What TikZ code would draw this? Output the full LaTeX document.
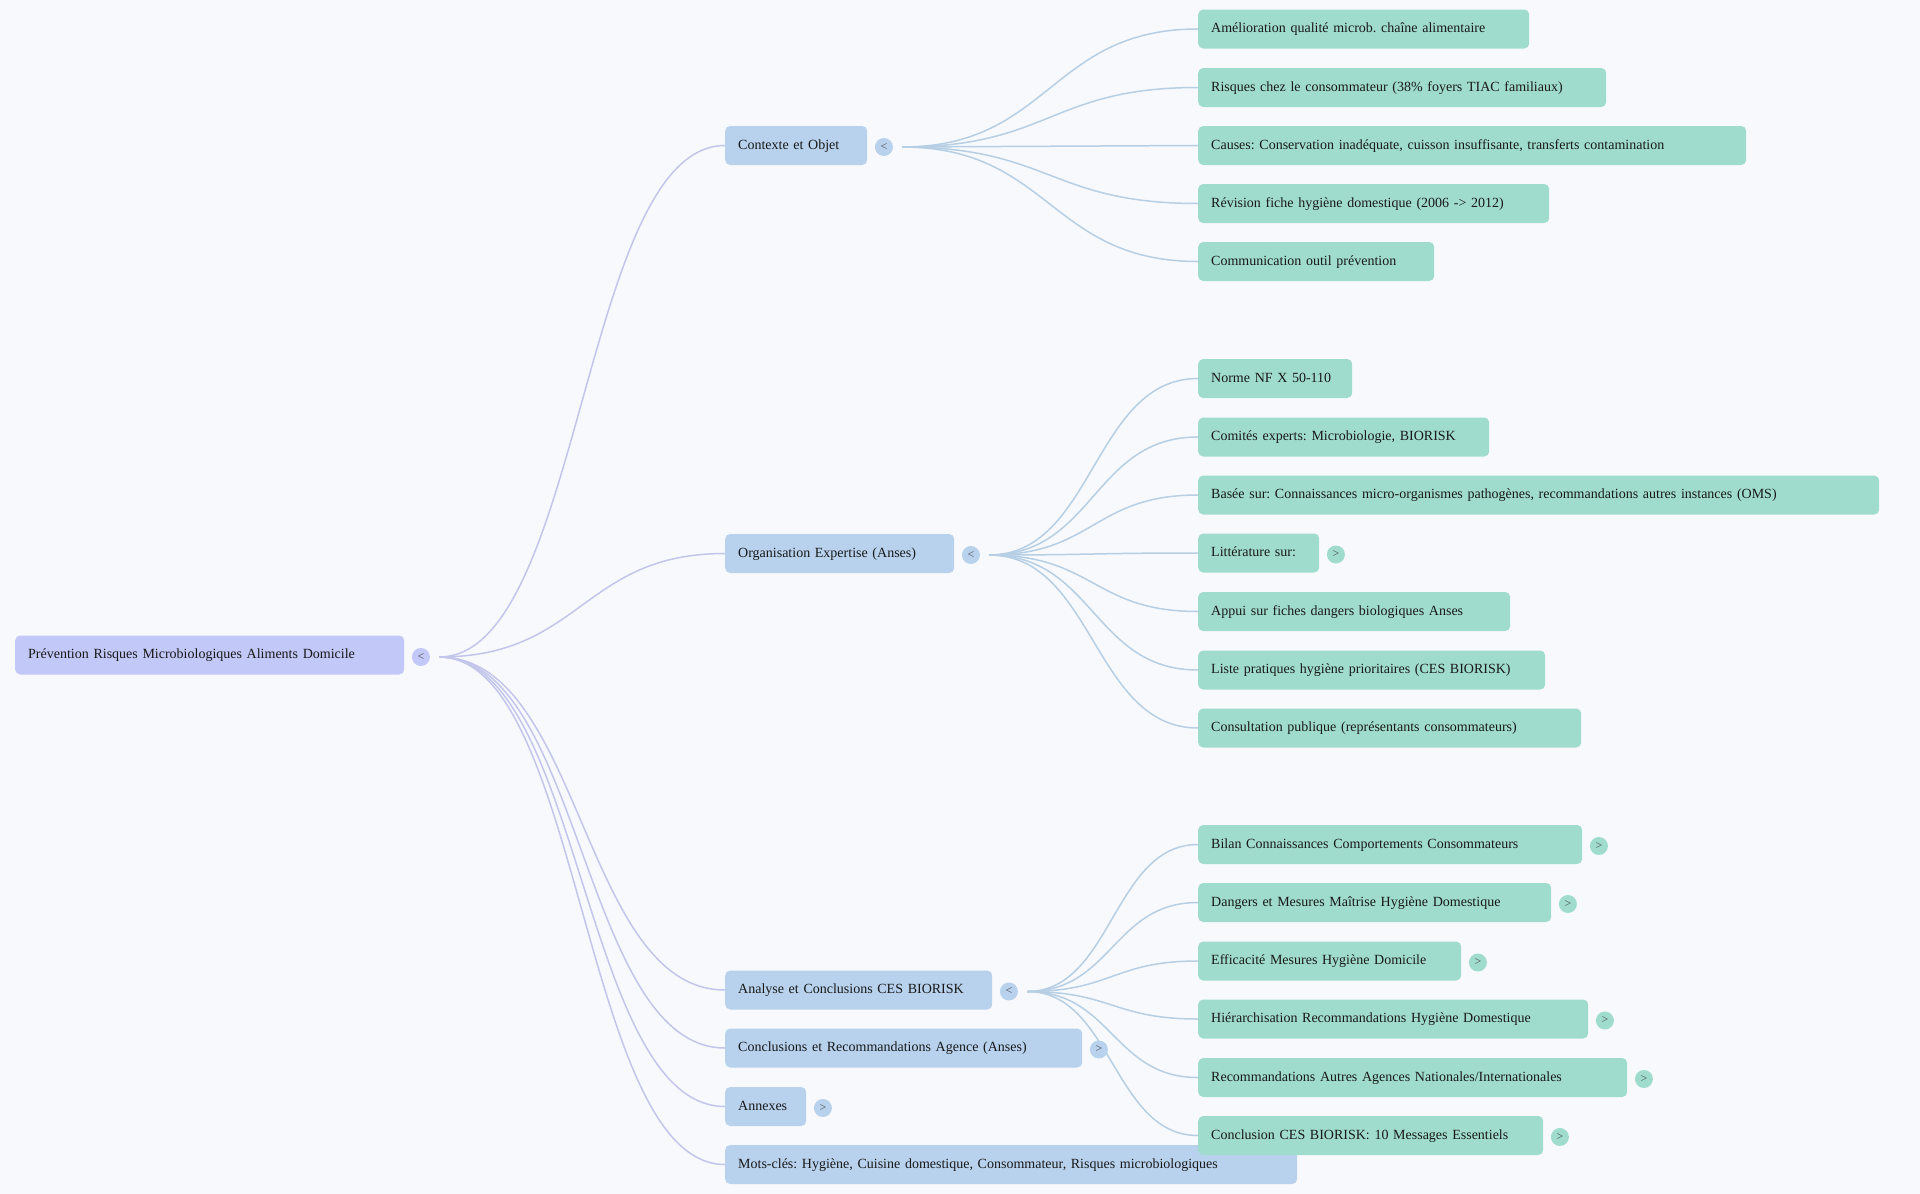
\documentclass[tikz,border=0pt]{standalone}
\usepackage{fontspec}
\setmainfont{Liberation Serif}
\usepackage{tikz}
\tikzset{>=latex}
\frenchspacing

\definecolor{bgcol}{HTML}{F7F9FD}
\definecolor{rootfill}{HTML}{C2C8F7}
\definecolor{onefill}{HTML}{B8D2EE}
\definecolor{twofill}{HTML}{A0DCCE}
\definecolor{rootline}{HTML}{C3C6EA}
\definecolor{oneline}{HTML}{B7CFE4}

\pgfdeclarelayer{back}
\pgfsetlayers{back,main}

\begin{document}
\begin{tikzpicture}[x=1pt,y=-1pt,
  box/.style={rectangle, rounded corners=5pt, anchor=west, align=left,
    minimum height=39pt, inner xsep=13pt, inner ysep=0pt,
    text height=10pt, text depth=3pt, font=\fontsize{14}{16}\selectfont, text=black!90},
  rootbox/.style={box, fill=rootfill, text width=#1},
  lvlone/.style={box, fill=onefill, text width=#1},
  lvltwo/.style={box, fill=twofill, text width=#1},
  tog/.style={circle, inner sep=0pt, minimum size=18pt, text=black!70,
    font=\fontsize{12}{12}\selectfont},
  rootedge/.style={draw=rootline, line width=1.5pt},
  oneedge/.style={draw=oneline, line width=1.5pt}]

\useasboundingbox (0,0) rectangle (1920,1194);

% root and first level
\node[rootbox=363pt] (root) at (15,655) {Prévention Risques Microbiologiques Aliments Domicile};
\node[lvlone=116pt] (ctx) at (725,145.5) {Contexte et Objet};
\node[lvlone=203pt] (org) at (725,553.5) {Organisation Expertise (Anses)};
\node[lvlone=241pt] (ana) at (725,990) {Analyse et Conclusions CES BIORISK};
\node[lvlone=331pt] (concl) at (725,1048) {Conclusions et Recommandations Agence (Anses)};
\node[lvlone=55pt] (annex) at (725,1106.5) {Annexes};
\node[lvlone=546pt] (mots) at (725,1164.5) {Mots-clés: Hygiène, Cuisine domestique, Consommateur, Risques microbiologiques};

% contexte
\node[lvltwo=305pt] (c1) at (1198,29) {Amélioration qualité microb. chaîne alimentaire};
\node[lvltwo=382pt] (c2) at (1198,87.5) {Risques chez le consommateur (38\% foyers TIAC familiaux)};
\node[lvltwo=522pt] (c3) at (1198,145.5) {Causes: Conservation inadéquate, cuisson insuffisante, transferts contamination};
\node[lvltwo=325pt] (c4) at (1198,203.5) {Révision fiche hygiène domestique (2006 -> 2012)};
\node[lvltwo=210pt] (c5) at (1198,261.5) {Communication outil prévention};

% organisation
\node[lvltwo=128pt] (o1) at (1198,378.5) {Norme NF X 50-110};
\node[lvltwo=265pt] (o2) at (1198,437) {Comités experts: Microbiologie, BIORISK};
\node[lvltwo=655pt] (o3) at (1198,495) {Basée sur: Connaissances micro-organismes pathogènes, recommandations autres instances (OMS)};
\node[lvltwo=95pt] (o4) at (1198,553) {Littérature sur:};
\node[lvltwo=286pt] (o5) at (1198,611.5) {Appui sur fiches dangers biologiques Anses};
\node[lvltwo=321pt] (o6) at (1198,670) {Liste pratiques hygiène prioritaires (CES BIORISK)};
\node[lvltwo=357pt] (o7) at (1198,728) {Consultation publique (représentants consommateurs)};

% analyse
\node[lvltwo=358pt] (a1) at (1198,844.5) {Bilan Connaissances Comportements Consommateurs};
\node[lvltwo=327pt] (a2) at (1198,902.5) {Dangers et Mesures Maîtrise Hygiène Domestique};
\node[lvltwo=237pt] (a3) at (1198,961) {Efficacité Mesures Hygiène Domicile};
\node[lvltwo=364pt] (a4) at (1198,1019) {Hiérarchisation Recommandations Hygiène Domestique};
\node[lvltwo=403pt] (a5) at (1198,1077.5) {Recommandations Autres Agences Nationales/Internationales};
\node[lvltwo=319pt] (a6) at (1198,1135.5) {Conclusion CES BIORISK: 10 Messages Essentiels};

% toggles
\node[tog, fill=rootfill] (troot) at ([xshift=16.5pt,yshift=-2pt]root.east) {<};
\node[tog, fill=onefill] (tctx) at ([xshift=16.5pt,yshift=-1.5pt]ctx.east) {<};
\node[tog, fill=onefill] (torg) at ([xshift=16.5pt,yshift=-1.5pt]org.east) {<};
\node[tog, fill=onefill] (tana) at ([xshift=16.5pt,yshift=-1.5pt]ana.east) {<};
\node[tog, fill=onefill] (tconcl) at ([xshift=16.5pt,yshift=-1.5pt]concl.east) {>};
\node[tog, fill=onefill] (tannex) at ([xshift=16.5pt,yshift=-1.5pt]annex.east) {>};
\foreach \n in {o4,a1,a2,a3,a4,a5,a6}
  \node[tog, fill=twofill] (t\n) at ([xshift=16.5pt,yshift=-1.5pt]\n.east) {>};

% connectors
\begin{pgfonlayer}{back}
\fill[bgcol] (0,0) rectangle (1920,1194);
\coordinate (sroot) at ([xshift=9pt]troot.east);
\coordinate (sctx) at ([xshift=9pt]tctx.east);
\coordinate (sorg) at ([xshift=9pt]torg.east);
\coordinate (sana) at ([xshift=9pt]tana.east);
\foreach \n in {ctx,org,ana,concl,annex,mots}
  \draw[rootedge] (sroot) .. controls +(143,0) and +(-143,0) .. (\n.west);
\foreach \n in {c1,c2,c3,c4,c5}
  \draw[oneedge] (sctx) .. controls +(148,0) and +(-148,0) .. (\n.west);
\foreach \n in {o1,o2,o3,o4,o5,o6,o7}
  \draw[oneedge] (sorg) .. controls +(105,0) and +(-105,0) .. (\n.west);
\foreach \n in {a1,a2,a3,a4,a5,a6}
  \draw[oneedge] (sana) .. controls +(85,0) and +(-85,0) .. (\n.west);
\end{pgfonlayer}

\end{tikzpicture}
\end{document}
